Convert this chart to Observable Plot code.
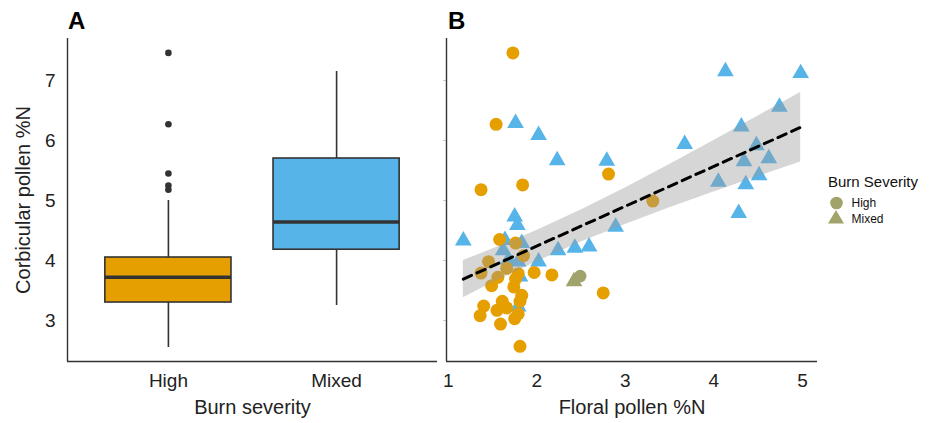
<!DOCTYPE html>
<html><head><meta charset="utf-8">
<script src="https://cdn.jsdelivr.net/npm/d3@7"></script>
<script src="https://cdn.jsdelivr.net/npm/@observablehq/plot@0.6"></script>
<style>
body{margin:0;background:#fff;font-family:"Liberation Sans",Arial,sans-serif;}
#wrap{position:relative;width:933px;height:423px;overflow:hidden;}
.panel{position:absolute;top:0;}
.tag{position:absolute;top:9px;font-weight:bold;font-size:24px;line-height:1;color:#000;}
#legend{position:absolute;left:0;top:0;}
</style></head><body>
<div id="wrap">
  <div class="panel" id="pA" style="left:0"></div>
  <div class="panel" id="pB" style="left:440px"></div>
  <div class="tag" style="left:68px">A</div>
  <div class="tag" style="left:448px">B</div>
  <svg id="legend" width="933" height="423" style="pointer-events:none">
    <text x="828" y="187" font-size="15" fill="#111">Burn Severity</text>
    <circle cx="836.5" cy="203" r="6.3" fill="#a1a36a"></circle>
    <path d="M836,210 L828,223.5 L844,223.5 Z" fill="#a1a36a"></path>
    <text x="851.5" y="207.3" font-size="12" fill="#111">High</text>
    <text x="851.5" y="223.3" font-size="12" fill="#111">Mixed</text>
  </svg>
</div>
<script>
// ---- Panel A: box plot summary ----
const categories = ["High", "Mixed"];
const whiskerLow = [2.55, 3.25];
const boxQ1 = [3.30, 4.18];
const boxMedian = [3.72, 4.64];
const boxQ3 = [4.05, 5.70];
const whiskerHigh = [5.00, 7.15];
const highOutliers = [7.46, 6.27, 5.45, 5.25, 5.18];
const yTicks = [3, 4, 5, 6, 7];

// ---- Panel B: scatter ----
const highX = [1.73, 1.54, 2.81, 1.37, 1.84, 3.31, 1.58, 1.76, 1.455, 1.37, 1.56, 1.66, 1.85, 1.49, 1.76, 1.79, 1.74, 1.97, 2.17, 1.83, 1.81, 1.61, 1.40, 1.55, 1.66, 1.36, 1.79, 1.75, 1.59, 1.81, 2.75];
const highY = [7.46, 6.27, 5.44, 5.18, 5.26, 4.99, 4.35, 4.29, 3.98, 3.79, 3.72, 3.87, 4.08, 3.58, 3.69, 3.78, 3.56, 3.80, 3.76, 3.42, 3.32, 3.32, 3.24, 3.17, 3.21, 3.08, 3.11, 3.03, 2.94, 2.57, 3.46];
const mixedX = [4.13, 4.98, 4.74, 1.76, 4.31, 2.02, 3.67, 4.48, 4.62, 2.23, 2.79, 4.34, 4.51, 4.05, 4.36, 4.28, 1.75, 1.78, 2.89, 1.17, 1.64, 1.83, 2.59, 2.43, 2.24, 1.62, 1.68, 2.02, 1.79, 1.81, 1.79];
const mixedY = [7.15, 7.12, 6.56, 6.29, 6.23, 6.09, 5.94, 5.92, 5.70, 5.67, 5.66, 5.65, 5.42, 5.31, 5.27, 4.79, 4.73, 4.59, 4.56, 4.33, 4.34, 4.29, 4.23, 4.21, 4.17, 4.17, 4.01, 3.98, 3.98, 3.73, 3.23];
const oliveCircleX = [2.49], oliveCircleY = [3.74];
const oliveTriX = [2.42], oliveTriY = [3.65];
const fitX = [1.17, 4.98];
const fitY = [3.69, 6.22];
const bandX = [1.17, 1.5, 2.0, 2.5, 3.0, 3.5, 4.0, 4.5, 4.98];
const bandLow = [3.38, 3.63, 3.98, 4.31, 4.60, 4.88, 5.14, 5.40, 5.64];
const bandHigh = [4.00, 4.19, 4.50, 4.84, 5.21, 5.60, 6.00, 6.41, 6.80];
const xTicksB = [1, 2, 3, 4, 5];

const colors = ["#E69F00", "#56B4E9"];
const olive = "#a1a36a";
const font = "Liberation Sans, Arial, sans-serif";
const yDom = [2.317, 7.7];
const intFmt = d3.format("d");

const boxes = categories.map((c, i) => ({cat: c, i: i + 1, lo: whiskerLow[i], q1: boxQ1[i], med: boxMedian[i], q3: boxQ3[i], hi: whiskerHigh[i]}));
const outl = highOutliers.map(v => ({i: 1, v}));
const hw = 0.375;

const A = Plot.plot({
  width: 440, height: 423,
  marginLeft: 67, marginRight: 3, marginTop: 38, marginBottom: 62,
  style: {fontFamily: font, background: "transparent", color: "#222"},
  x: {domain: [0.4, 2.6]},
  y: {domain: yDom},
  color: {domain: categories, range: colors},
  marks: [
    Plot.ruleX(boxes, {x: "i", y1: "lo", y2: "q1", stroke: "#333", strokeWidth: 1.6}),
    Plot.ruleX(boxes, {x: "i", y1: "q3", y2: "hi", stroke: "#333", strokeWidth: 1.6}),
    Plot.rect(boxes, {x1: d => d.i - hw, x2: d => d.i + hw, y1: "q1", y2: "q3", fill: "cat", stroke: "#333", strokeWidth: 1.6}),
    Plot.ruleY(boxes, {x1: d => d.i - hw, x2: d => d.i + hw, y: "med", stroke: "#333", strokeWidth: 3.5}),
    Plot.dot(outl, {x: "i", y: "v", r: 3.3, fill: "#333"}),
    Plot.axisY({ticks: yTicks, tickFormat: intFmt, tickSize: 0, tickPadding: 12, fontSize: 19, label: "Corbicular pollen %N", labelAnchor: "center", labelOffset: 52, labelArrow: "none"}),
    Plot.axisX({ticks: [1, 2], tickFormat: i => categories[i - 1], tickSize: 0, tickPadding: 12, fontSize: 19, label: "Burn severity", labelAnchor: "center", labelOffset: 52, labelArrow: "none"}),
    Plot.ruleX([0.4], {stroke: "#333", strokeWidth: 1.4}),
    Plot.ruleY([yDom[0]], {stroke: "#333", strokeWidth: 1.4})
  ]
});
A.querySelectorAll('[aria-label="y-axis label"] text, [aria-label="x-axis label"] text').forEach(t => t.setAttribute("font-size", "20"));
document.getElementById("pA").appendChild(A);

const highPts = highX.map((x, k) => ({x, y: highY[k]}));
const mixedPts = mixedX.map((x, k) => ({x, y: mixedY[k]}));
const oliveC = oliveCircleX.map((x, k) => ({x, y: oliveCircleY[k]}));
const oliveT = oliveTriX.map((x, k) => ({x, y: oliveTriY[k]}));
const band = bandX.map((x, k) => ({x, lo: bandLow[k], hi: bandHigh[k]}));
const fit = fitX.map((x, k) => ({x, y: fitY[k]}));
const xDomB = [0.98, 5.17];

const B = Plot.plot({
  width: 390, height: 423,
  marginLeft: 6, marginRight: 13, marginTop: 38, marginBottom: 62,
  style: {fontFamily: font, background: "transparent", color: "#222", overflow: "visible"},
  x: {domain: xDomB},
  y: {domain: yDom},
  marks: [
    Plot.dot(mixedPts, {x: "x", y: "y", symbol: "triangle", r: 6.2, fill: colors[1]}),
    Plot.dot(highPts, {x: "x", y: "y", symbol: "circle", r: 6.5, fill: colors[0]}),
    Plot.dot(oliveT, {x: "x", y: "y", symbol: "triangle", r: 6.2, fill: olive}),
    Plot.dot(oliveC, {x: "x", y: "y", symbol: "circle", r: 6.3, fill: olive}),
    Plot.areaY(band, {x: "x", y1: "lo", y2: "hi", fill: "#999999", fillOpacity: 0.4}),
    Plot.line(fit, {x: "x", y: "y", stroke: "#000", strokeWidth: 3, strokeDasharray: "9,6"}),
    Plot.axisY({ticks: yTicks, tickSize: 3, tickFormat: () => "", stroke: "#ccc", label: null}),
    Plot.axisX({ticks: xTicksB, tickFormat: intFmt, tickSize: 0, tickPadding: 12, fontSize: 19, label: "Floral pollen %N", labelAnchor: "center", labelOffset: 52, labelArrow: "none"}),
    Plot.ruleX([xDomB[0]], {stroke: "#333", strokeWidth: 1.4}),
    Plot.ruleY([yDom[0]], {stroke: "#333", strokeWidth: 1.4})
  ]
});
B.querySelectorAll('[aria-label="x-axis label"] text').forEach(t => t.setAttribute("font-size", "20"));
document.getElementById("pB").appendChild(B);
</script>
</body></html>
